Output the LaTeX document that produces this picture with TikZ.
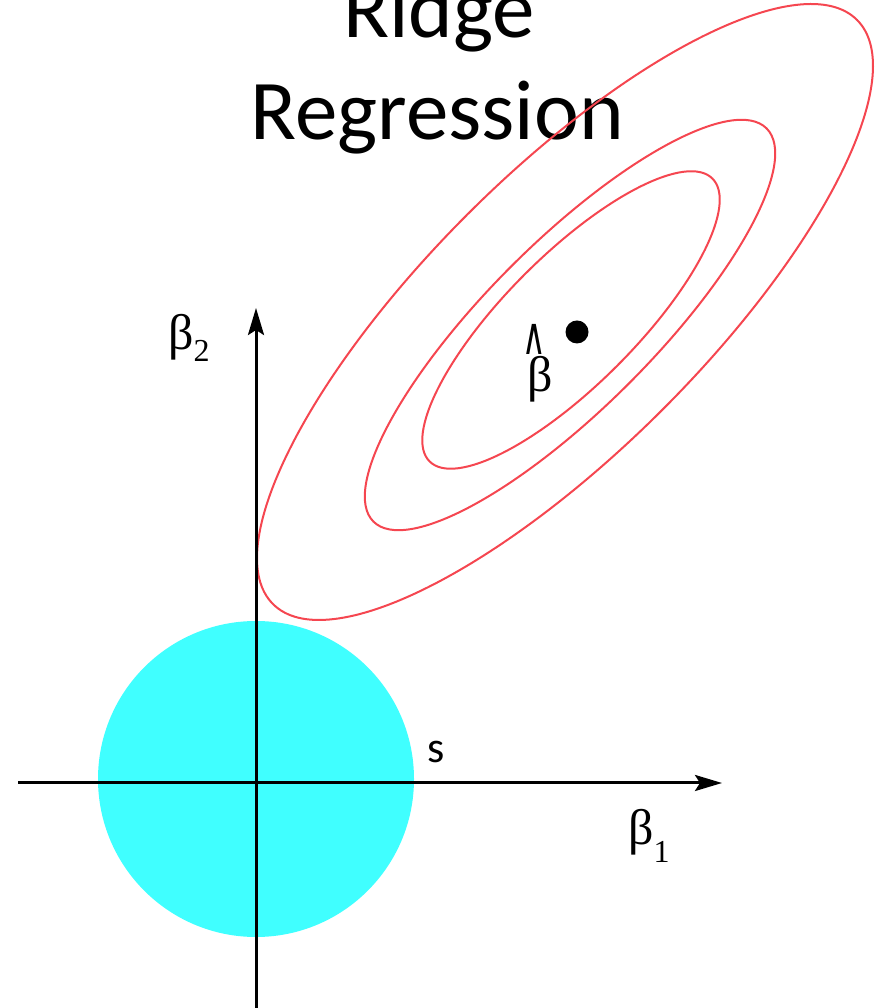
\documentclass[tikz,border=0pt]{standalone}
\usepackage{fontspec}
\setmainfont{Carlito}
\newfontfamily\greekfont{Liberation Serif}
\newfontfamily\symfont{DejaVu Sans}
\usetikzlibrary{arrows.meta}
\definecolor{ballcyan}{RGB}{64,255,255}
\definecolor{contourred}{RGB}{245,70,80}
\begin{document}
\begin{tikzpicture}[x=1pt,y=1pt,line join=round,
  axis/.style={line width=3pt,-{Stealth[length=27pt,width=16pt,inset=5pt]}},
  contour/.style={contourred,line width=2pt},
  greeklbl/.style={font=\greekfont\fontsize{50}{50}\selectfont,inner sep=0pt,anchor=base west},
  title/.style={font=\fontsize{85}{102}\selectfont,inner sep=0pt,anchor=base}]
	\clip (0,0) rectangle (883,1008);
	% Tiêu đề
	\node[title] (ridge) at (439,970) {Ridge};
	\node[title] (regression) at (437,868) {Regression};
	
	% Miền ràng buộc (hình tròn)
	\fill[ballcyan] (256,229) circle (158);
	
	% Các đường mức (elip)
	\draw[contour, rotate around={45:(565,696)}] (565,696) ellipse [x radius=413, y radius=138];
	\draw[contour, rotate around={45:(570,683)}] (570,683) ellipse [x radius=278, y radius=83];
	\draw[contour, rotate around={45:(571,688)}] (571,688) ellipse [x radius=200, y radius=65];
	
	% Hệ trục
	\coordinate (xleft) at (18,225);
	\coordinate (xright) at (722,225);
	\coordinate (ybottom) at (256,0);
	\coordinate (ytop) at (256,700);
	\draw[axis] (xleft) -- (xright);
	\draw[axis] (ybottom) -- (ytop);
	
	% Nhãn trục
	\node[greeklbl] (beta2) at (168,658) {β\raisebox{-12pt}{\fontsize{32}{32}\selectfont 2}};
	\node[greeklbl] (beta1) at (628,163) {β\raisebox{-18pt}{\fontsize{32}{32}\selectfont 1}};
	\node[font=\fontsize{44}{44}\selectfont,inner sep=0pt,anchor=base] (s) at (436,245) {s};
	
	% Nghiệm bình phương tối thiểu
	\fill (577,676) circle (11.5) coordinate (ols);
	\node[greeklbl] (betahat) at (527,616) {β};
	\node[font=\symfont\fontsize{52}{52}\selectfont,inner sep=0pt,anchor=base] (hat) at (534,653) {\scalebox{0.62}[1]{∧}};
\end{tikzpicture}
\end{document}
